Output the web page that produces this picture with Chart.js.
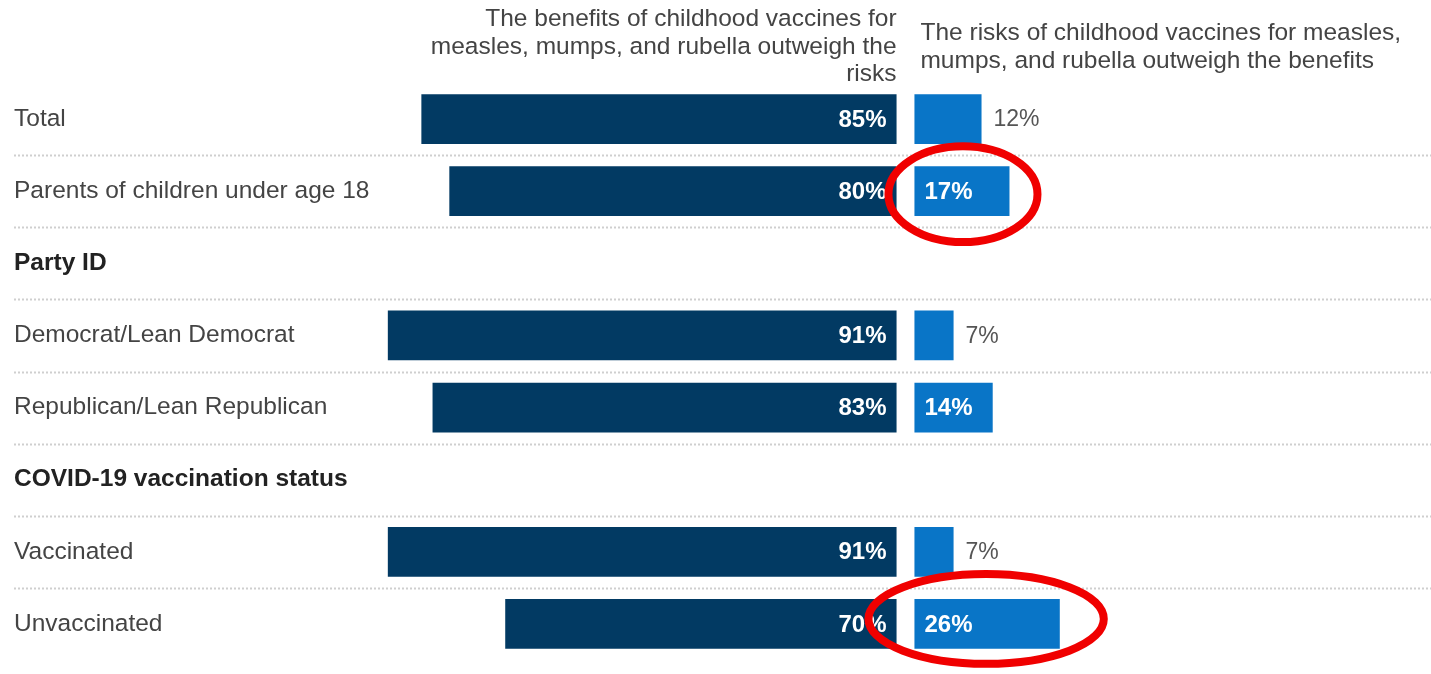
<!DOCTYPE html>
<html>
<head>
<meta charset="utf-8">
<script src="https://cdn.jsdelivr.net/npm/chart.js@4/dist/chart.umd.min.js"></script>
<style>
  html, body { margin: 0; padding: 0; background: #fff; }
  #wrap { width: 1431px; height: 674px; position: relative; }
</style>
</head>
<body>
<div id="wrap"><canvas id="chart"></canvas></div>
<script>
const categories = [
  "Total",
  "Parents of children under age 18",
  "Party ID",
  "Democrat/Lean Democrat",
  "Republican/Lean Republican",
  "COVID-19 vaccination status",
  "Vaccinated",
  "Unvaccinated"
];
const headerRows = ["Party ID", "COVID-19 vaccination status"];
const benefits = [85, 80, null, 91, 83, null, 91, 70];
const risks = [12, 17, null, 7, 14, null, 7, 26];
const leftTitle = ["The benefits of childhood vaccines for", "measles, mumps, and rubella outweigh the", "risks"];
const rightTitle = ["The risks of childhood vaccines for measles,", "mumps, and rubella outweigh the benefits"];
// rows that get a red ring drawn round the "risks" bar
const circled = ["Parents of children under age 18", "Unvaccinated"];

const FONT = "'Liberation Sans', Arial, sans-serif";
const NAVY = "#023a63";
const BLUE = "#0975c7";
const HALF_GAP = 1.6; // gap between the two columns, in % units

const leftBars = benefits.map(v => v == null ? null : [-HALF_GAP - v, -HALF_GAP]);
const rightBars = risks.map(v => v == null ? null : [HALF_GAP, HALF_GAP + v]);

const separators = {
  id: "separators",
  beforeDatasetsDraw(chart) {
    const { ctx, scales: { y } } = chart;
    ctx.save();
    ctx.strokeStyle = "#cfcfcf";
    ctx.lineWidth = 2;
    ctx.setLineDash([2, 2]);
    for (let i = 1; i < categories.length; i++) {
      const yy = Math.round((y.getPixelForValue(i - 1) + y.getPixelForValue(i)) / 2) + 0.5;
      ctx.beginPath();
      ctx.moveTo(14, yy);
      ctx.lineTo(chart.width, yy);
      ctx.stroke();
    }
    ctx.restore();
  }
};

const valueLabels = {
  id: "valueLabels",
  afterDatasetsDraw(chart) {
    const { ctx } = chart;
    ctx.save();
    ctx.textBaseline = "middle";
    chart.getDatasetMeta(0).data.forEach((el, i) => {
      if (benefits[i] == null) return;
      const right = Math.max(el.x, el.base);
      ctx.font = "bold 24px " + FONT;
      ctx.fillStyle = "#fff";
      ctx.textAlign = "right";
      ctx.fillText(benefits[i] + "%", right - 10, el.y + 1);
    });
    chart.getDatasetMeta(1).data.forEach((el, i) => {
      const v = risks[i];
      if (v == null) return;
      const left = Math.min(el.x, el.base), right = Math.max(el.x, el.base);
      ctx.textAlign = "left";
      if (v >= 13) {
        ctx.font = "bold 24px " + FONT;
        ctx.fillStyle = "#fff";
        ctx.fillText(v + "%", left + 10, el.y + 1);
      } else {
        ctx.font = "23px " + FONT;
        ctx.fillStyle = "#555";
        ctx.fillText(v + "%", right + 12, el.y + 1);
      }
    });
    ctx.restore();
  }
};

const columnTitles = {
  id: "columnTitles",
  afterDraw(chart) {
    const { ctx, scales: { x } } = chart;
    const mid = 47, lh = 27.5;
    ctx.save();
    ctx.font = "24.5px " + FONT;
    ctx.fillStyle = "#444";
    ctx.textBaseline = "middle";
    ctx.textAlign = "right";
    leftTitle.forEach((t, i) => {
      ctx.fillText(t, x.getPixelForValue(-HALF_GAP), mid + (i - (leftTitle.length - 1) / 2) * lh);
    });
    ctx.textAlign = "left";
    rightTitle.forEach((t, i) => {
      ctx.fillText(t, x.getPixelForValue(HALF_GAP) + 6, mid + (i - (rightTitle.length - 1) / 2) * lh);
    });
    ctx.restore();
  }
};

// offset and padding round each circled bar: [dx, dy, padX, padY]
const ringPad = [[1, 3, 27, 23], [-1, -5, 45, 20]];
const rings = {
  id: "rings",
  afterDraw(chart) {
    const { ctx } = chart;
    const meta = chart.getDatasetMeta(1);
    ctx.save();
    ctx.strokeStyle = "#f00000";
    ctx.lineWidth = 8;
    circled.forEach((name, k) => {
      const el = meta.data[categories.indexOf(name)];
      const left = Math.min(el.x, el.base), right = Math.max(el.x, el.base);
      const [dx, dy, px, py] = ringPad[k];
      ctx.beginPath();
      ctx.ellipse((left + right) / 2 + dx, el.y + dy, (right - left) / 2 + px, el.height / 2 + py, 0, 0, Math.PI * 2);
      ctx.stroke();
    });
    ctx.restore();
  }
};

new Chart(document.getElementById("chart"), {
  type: "bar",
  data: {
    labels: categories,
    datasets: [
      { label: "Benefits outweigh risks", data: leftBars, backgroundColor: NAVY },
      { label: "Risks outweigh benefits", data: rightBars, backgroundColor: BLUE }
    ]
  },
  options: {
    indexAxis: "y",
    responsive: true,
    maintainAspectRatio: false,
    animation: false,
    layout: { padding: { left: 14, top: 83, bottom: 14, right: 0 } },
    datasets: { bar: { grouped: false, barPercentage: 0.69, categoryPercentage: 1 } },
    plugins: { legend: { display: false }, tooltip: { enabled: false } },
    scales: {
      x: { display: false, min: -94, max: 94 },
      y: {
        grid: { display: false },
        border: { display: false },
        afterFit: s => { s.width = 366; s.paddingTop = 0; s.paddingBottom = 0; },
        ticks: {
          crossAlign: "far",
          color: ctx => headerRows.includes(categories[ctx.index]) ? "#222" : "#444",
          font: ctx => ({
            family: FONT,
            size: 24.5,
            weight: headerRows.includes(categories[ctx.index]) ? "bold" : "normal"
          })
        }
      }
    }
  },
  plugins: [separators, valueLabels, columnTitles, rings]
});
</script>
</body>
</html>
